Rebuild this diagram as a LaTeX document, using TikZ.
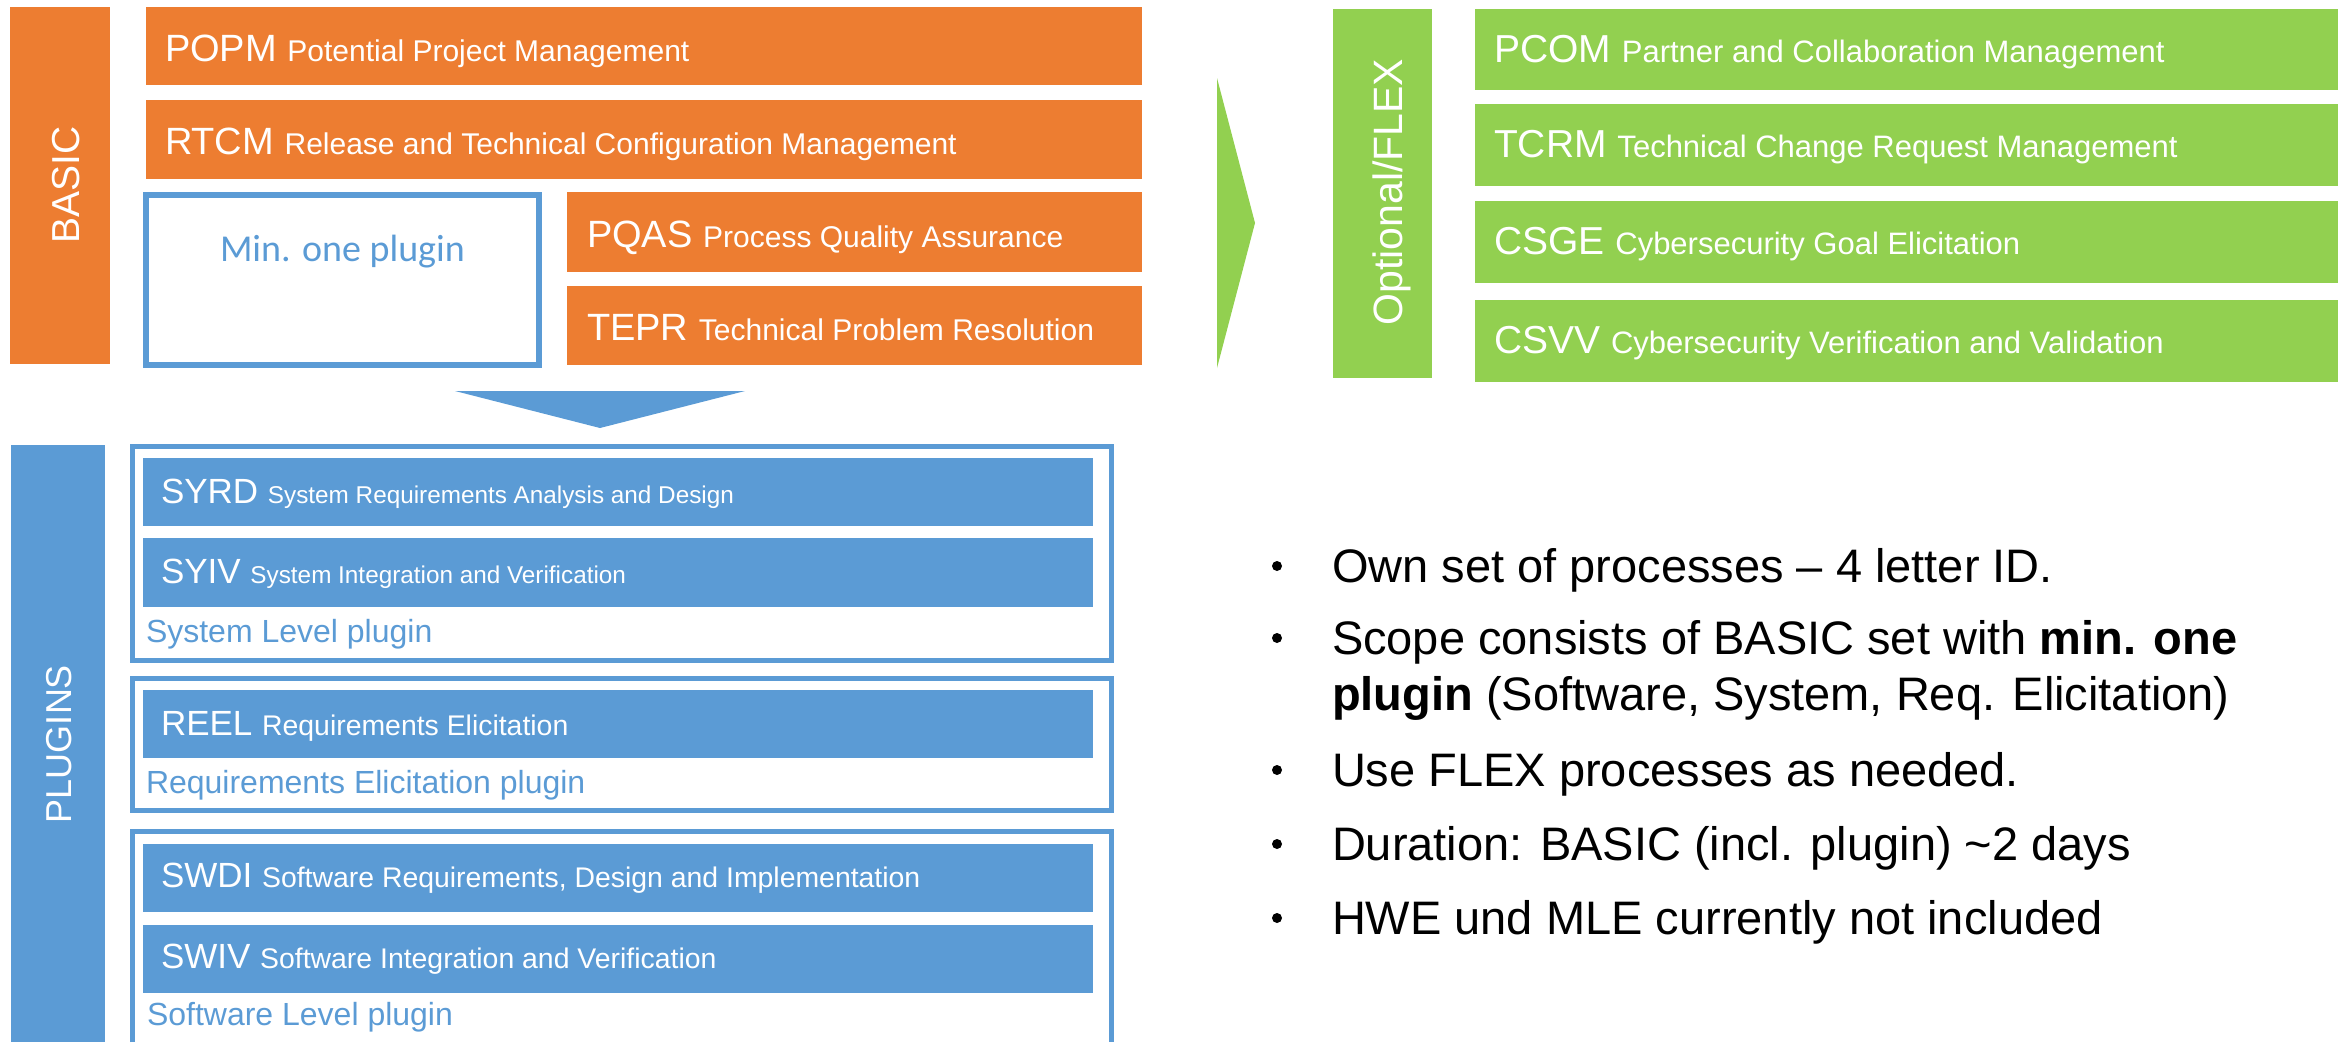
\documentclass[tikz,border=0pt]{standalone}
\usepackage{fontspec}
\setmainfont{Liberation Sans}
\newfontfamily\calibrifont{Carlito}
\usetikzlibrary{calc}
\definecolor{porange}{HTML}{ED7D31}
\definecolor{pblue}{HTML}{5B9BD5}
\definecolor{pgreen}{HTML}{92D050}
\newcommand\fsz[1]{\fontsize{#1pt}{#1pt}\selectfont}
% process label: ID in a larger size, then its full name
\newcommand\proc[4]{{\fsz{#1}#2\ }{\fsz{#3}#4}}
\begin{document}
\begin{tikzpicture}[x=1pt,y=-1pt,
  box/.style={inner sep=0pt, outer sep=0pt, anchor=north west, draw=none},
  obox/.style={box, fill=porange},
  bbox/.style={box, fill=pblue},
  gbox/.style={box, fill=pgreen},
  lbl/.style={inner sep=0pt, outer sep=0pt, anchor=base west, text=white},
  side/.style={inner sep=0pt, outer sep=0pt, anchor=base, rotate=90, text=white},
  grp/.style={draw=pblue, line width=5pt, inner sep=0pt, outer sep=0pt, anchor=north west},
  captxt/.style={inner sep=0pt, outer sep=0pt, anchor=base west, text=pblue},
  bul/.style={inner sep=0pt, outer sep=0pt, anchor=base west, text=black},
  dot/.style={circle, fill=black, inner sep=0pt, minimum size=10pt}]
\useasboundingbox (0,0) rectangle (2348,1042);

% ---------------- BASIC ----------------
\node[obox, minimum width=100pt, minimum height=357pt] (basic) at (10,7) {};
\node[side] (basicT) at (79,185) {\fsz{39}BASIC};

\node[obox, minimum width=996pt, minimum height=78pt] (popm) at (146,7) {};
\node[obox, minimum width=996pt, minimum height=79pt] (rtcm) at (146,100) {};
\node[obox, minimum width=575pt, minimum height=80pt] (pqas) at (567,192) {};
\node[obox, minimum width=575pt, minimum height=79pt] (tepr) at (567,286) {};
\node[lbl] (popmT) at ($(popm.west)+(19,15)$) {\proc{38}{POPM}{30}{Potential Project Management}};
\node[lbl] (rtcmT) at ($(rtcm.west)+(19,15)$) {\proc{38}{RTCM}{30}{Release and Technical Configuration Management}};
\node[lbl] (pqasT) at ($(pqas.west)+(20,15)$) {\proc{38}{PQAS}{30}{Process Quality Assurance}};
\node[lbl] (teprT) at ($(tepr.west)+(20,15)$) {\proc{38}{TEPR}{30}{Technical Problem Resolution}};

\node[draw=pblue, line width=6pt, inner sep=0pt, outer sep=0pt, anchor=north west,
      minimum width=393pt, minimum height=170pt] (minbox) at (146,195) {};
\node[inner sep=0pt, outer sep=0pt, anchor=base west, text=pblue] (minT) at (220,261)
      {\calibrifont\fsz{38}Min. one plugin};

% arrow from BASIC down to the plugins
\fill[pblue] (455,391) -- (745,391) -- (600,428) -- cycle;

% ---------------- PLUGINS ----------------
\node[bbox, minimum width=94pt, minimum height=597pt] (plugins) at (11,445) {};
\node[side] (pluginsT) at (71,744) {\fsz{36}PLUGINS};

\node[grp, minimum width=979pt, minimum height=214pt] (sysgrp) at (132.5,446.5) {};
\node[grp, minimum width=979pt, minimum height=132pt] (reqgrp) at (132.5,678.5) {};
\draw[pblue, line width=5pt] (132.5,1042) |- (1111.5,831.5) -- (1111.5,1042);

\node[bbox, minimum width=950pt, minimum height=68pt] (syrd) at (143,458) {};
\node[bbox, minimum width=950pt, minimum height=69pt] (syiv) at (143,538) {};
\node[bbox, minimum width=950pt, minimum height=68pt] (reel) at (143,690) {};
\node[bbox, minimum width=950pt, minimum height=68pt] (swdi) at (143,844) {};
\node[bbox, minimum width=950pt, minimum height=68pt] (swiv) at (143,925) {};
\node[lbl] (syrdT) at ($(syrd.west)+(18,11)$) {\proc{35}{SYRD}{24.3}{System Requirements Analysis and Design}};
\node[lbl] (syivT) at ($(syiv.west)+(18,11)$) {\proc{35}{SYIV}{24.3}{System Integration and Verification}};
\node[lbl] (reelT) at ($(reel.west)+(18,11)$) {\proc{35}{REEL}{28.4}{Requirements Elicitation}};
\node[lbl] (swdiT) at ($(swdi.west)+(18,9)$) {\proc{35}{SWDI}{28.4}{Software Requirements, Design and Implementation}};
\node[lbl] (swivT) at ($(swiv.west)+(18,9)$) {\proc{35}{SWIV}{28.4}{Software Integration and Verification}};

\node[captxt] (sysT) at (146,642) {\fsz{32}System Level plugin};
\node[captxt] (reqT) at (146,793) {\fsz{32}Requirements Elicitation plugin};
\node[captxt] (swT) at (147,1025) {\fsz{32}Software Level plugin};

% ---------------- Optional/FLEX ----------------
\fill[pgreen] (1217,78) -- (1255,223) -- (1217,368) -- cycle;
\node[gbox, minimum width=99pt, minimum height=369pt] (flex) at (1333,9) {};
\node[side] (flexT) at (1402,192) {\fsz{41}Optional/FLEX};

\node[gbox, minimum width=863pt, minimum height=81pt] (pcom) at (1475,9) {};
\node[gbox, minimum width=863pt, minimum height=82pt] (tcrm) at (1475,104) {};
\node[gbox, minimum width=863pt, minimum height=82pt] (csge) at (1475,201) {};
\node[gbox, minimum width=863pt, minimum height=82pt] (csvv) at (1475,300) {};
\node[lbl] (pcomT) at ($(pcom.west)+(19,13)$) {\proc{39}{PCOM}{31}{Partner and Collaboration Management}};
\node[lbl] (tcrmT) at ($(tcrm.west)+(19,12)$) {\proc{39}{TCRM}{31}{Technical Change Request Management}};
\node[lbl] (csgeT) at ($(csge.west)+(19,12)$) {\proc{39}{CSGE}{31}{Cybersecurity Goal Elicitation}};
\node[lbl] (csvvT) at ($(csvv.west)+(19,12)$) {\proc{39}{CSVV}{31}{Cybersecurity Verification and Validation}};

% ---------------- notes ----------------
\begin{scope}[every node/.append style={font=\fsz{47}}]
\node[dot] (d1) at (1277,566) {};
\node[dot] (d2) at (1277,638) {};
\node[dot] (d3) at (1277,770) {};
\node[dot] (d4) at (1277,844) {};
\node[dot] (d5) at (1277,918) {};
\node[bul] (n1) at (1332,582) {Own set of processes -- 4 letter ID.};
\node[bul] (n2a) at (1332,654) {Scope consists of BASIC set with \textbf{min. one}};
\node[bul] (n2b) at (1332,710) {\textbf{plugin} (Software, System, Req. Elicitation)};
\node[bul] (n3) at (1332,786) {Use FLEX processes as needed.};
\node[bul] (n4) at (1332,860) {Duration: BASIC (incl. plugin) \textasciitilde 2 days};
\node[bul] (n5) at (1332,934) {HWE und MLE currently not included};
\end{scope}
\end{tikzpicture}
\end{document}
